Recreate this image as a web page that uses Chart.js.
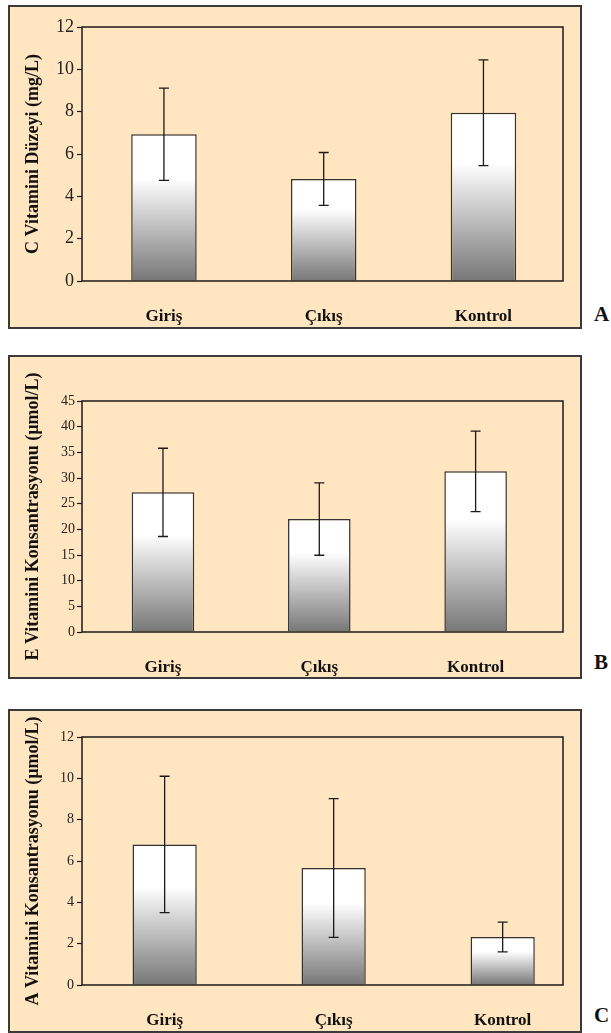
<!DOCTYPE html>
<html>
<head>
<meta charset="utf-8">
<script src="https://cdn.jsdelivr.net/npm/chart.js@4"></script>
<style>
  body { margin: 0; width: 611px; height: 1033px; overflow: hidden; background: #fff; position: relative; }
  .panel { position: absolute; left: 8px; width: 574px; height: 324px; box-sizing: border-box;
           border: 2px solid #3a3a3a; background: #ffe6c1; }
  .panel canvas { display: block; }
  .harf { position: absolute; left: 594px; font: bold 21px 'Liberation Serif', 'Times New Roman', serif; color: #111; }
</style>
</head>
<body>
<div class="panel" style="top:5px"><canvas id="grafC" width="570" height="320"></canvas></div>
<div class="harf" style="top:302px">A</div>
<div class="panel" style="top:355px"><canvas id="grafE" width="570" height="320"></canvas></div>
<div class="harf" style="top:650px">B</div>
<div class="panel" style="top:709px"><canvas id="grafA" width="570" height="320"></canvas></div>
<div class="harf" style="top:1003px">C</div>

<script>
// veriler (ortalama ve standart sapma)
const kategoriler = ['Giriş', 'Çıkış', 'Kontrol'];

const cVitOrt = [6.93, 4.82, 7.95];
const cVitSd = [2.18, 1.25, 2.5];

const eVitOrt = [27.2, 22.0, 31.3];
const eVitSd = [8.6, 7.05, 7.85];

const aVitOrt = [6.8, 5.66, 2.32];
const aVitSd = [3.3, 3.36, 0.72];

const cTicks = [0, 2, 4, 6, 8, 10, 12];
const eTicks = [0, 5, 10, 15, 20, 25, 30, 35, 40, 45];
const aTicks = [0, 2, 4, 6, 8, 10, 12];

const serif = "'Liberation Serif', 'Times New Roman', serif";

// hata cubuklari + cerceve
const hataPlugin = {
    id: 'hata',
    afterDatasetsDraw(chart, args, opts) {
        const ctx = chart.ctx;
        const y = chart.scales.y;
        const meta = chart.getDatasetMeta(0);
        ctx.save();
        ctx.strokeStyle = '#1a1a1a';
        ctx.lineWidth = 1.3;
        meta.data.forEach(function (bar, i) {
            const ust = y.getPixelForValue(opts.ort[i] + opts.sd[i]);
            const alt = y.getPixelForValue(opts.ort[i] - opts.sd[i]);
            ctx.beginPath();
            ctx.moveTo(bar.x, ust); ctx.lineTo(bar.x, alt);
            ctx.moveTo(bar.x - 5, ust); ctx.lineTo(bar.x + 5, ust);
            ctx.moveTo(bar.x - 5, alt); ctx.lineTo(bar.x + 5, alt);
            ctx.stroke();
        });
        const a = chart.chartArea;
        ctx.strokeStyle = '#1a1a1a';
        ctx.lineWidth = 1.5;
        ctx.strokeRect(a.left, a.top, a.right - a.left, a.bottom - a.top);
        ctx.restore();
    }
};

function gradyan(c) {
    const chart = c.chart;
    if (!chart.chartArea || c.type !== 'data') return '#ffffff';
    const y = chart.scales.y;
    const ust = y.getPixelForValue(c.parsed.y);
    const alt = y.getPixelForValue(0);
    const g = chart.ctx.createLinearGradient(0, ust, 0, alt);
    g.addColorStop(0, '#ffffff');
    g.addColorStop(0.3, '#ffffff');
    g.addColorStop(1, '#777777');
    return g;
}

function grafikYap(id, ort, sd, tickler, baslik, s) {
    const veri = ort.map(function (v, i) { return {x: i, y: v}; });
    return new Chart(document.getElementById(id), {
        type: 'bar',
        data: {
            datasets: [{
                data: veri,
                backgroundColor: gradyan,
                borderColor: '#333333',
                borderWidth: 1.5,
                barPercentage: s.barPct,
                categoryPercentage: 1
            }]
        },
        options: {
            responsive: false,
            animation: false,
            devicePixelRatio: 1,
            layout: {padding: {top: s.padTop, right: 17, left: 0, bottom: 0}},
            plugins: {
                legend: {display: false},
                tooltip: {enabled: false},
                hata: {ort: ort, sd: sd}
            },
            scales: {
                x: {
                    type: 'linear',
                    offset: false,
                    min: s.xMin,
                    max: s.xMax,
                    grid: {display: false, offset: false},
                    border: {display: false},
                    afterBuildTicks: function (ax) {
                        ax.ticks = kategoriler.map(function (k, i) { return {value: i}; });
                    },
                    afterFit: function (ax) { ax.height = s.xH; },
                    ticks: {
                        padding: 17,
                        maxRotation: 0,
                        autoSkip: false,
                        color: '#111',
                        font: {family: serif, size: 17, weight: 'bold'},
                        callback: function (v) { return kategoriler[Math.round(v)]; }
                    }
                },
                y: {
                    min: 0,
                    max: tickler[tickler.length - 1],
                    afterBuildTicks: function (ax) {
                        ax.ticks = tickler.map(function (t) { return {value: t}; });
                    },
                    afterFit: function (ax) { ax.width = 72; },
                    grid: {drawOnChartArea: false, tickLength: 5, tickColor: '#1a1a1a', tickWidth: 1.2},
                    border: {display: false},
                    ticks: {
                        padding: s.tickPad,
                        color: '#222',
                        font: {family: serif, size: s.tickSize}
                    },
                    title: {
                        display: true,
                        text: baslik,
                        color: '#111',
                        padding: {top: 13, bottom: 0},
                        font: {family: serif, size: 18, weight: 'bold'}
                    }
                }
            }
        },
        plugins: [hataPlugin]
    });
}

grafikYap('grafC', cVitOrt, cVitSd, cTicks, 'C Vitamini Düzeyi (mg/L)',
    {xMin: -0.513, xMax: 2.498, barPct: 0.41, padTop: 20, xH: 46, tickSize: 18, tickPad: 3});
grafikYap('grafE', eVitOrt, eVitSd, eTicks, 'E Vitamini Konsantrasyonu (µmol/L)',
    {xMin: -0.518, xMax: 2.559, barPct: 0.40, padTop: 44, xH: 45, tickSize: 14, tickPad: 2});
grafikYap('grafA', aVitOrt, aVitSd, aTicks, 'A Vitamini Konsantrasyonu (µmol/L)',
    {xMin: -0.489, xMax: 2.357, barPct: 0.38, padTop: 26, xH: 46, tickSize: 14, tickPad: 3});
</script>
</body>
</html>
